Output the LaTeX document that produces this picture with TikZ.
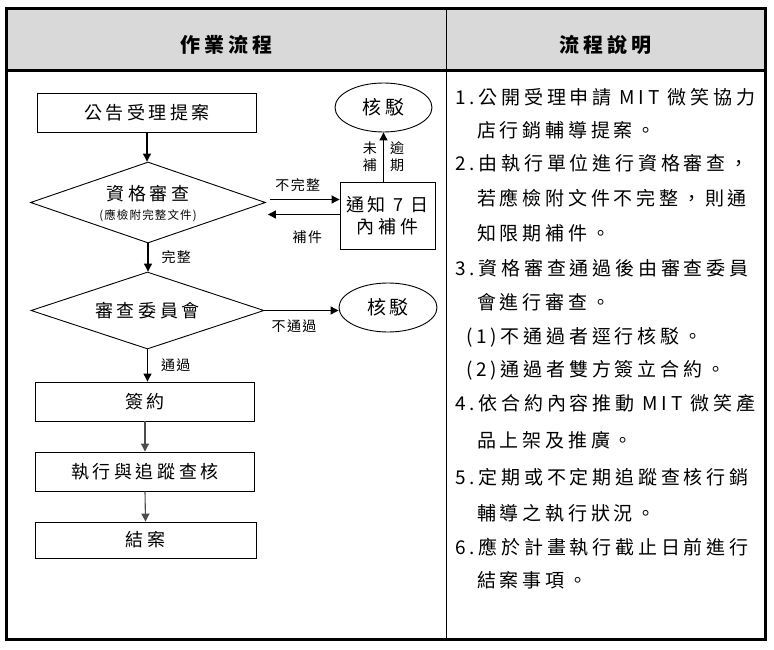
\documentclass[tikz,border=0pt]{standalone}
\usepackage{fontspec}
\newfontfamily\cjk[LetterSpace=20]{Noto Sans CJK TC}
\newfontfamily\cjklbl[LetterSpace=10]{Noto Sans CJK TC}
\usetikzlibrary{arrows.meta,shapes.geometric,calc}

\begin{document}
\begin{tikzpicture}[x=1pt,y=-1pt,
    box/.style={rectangle,draw,line width=0.9pt,minimum width=219pt,minimum height=39pt,inner sep=0pt,font=\cjk\fontsize{18}{22}\selectfont},
    dia/.style={diamond,draw,line width=0.9pt,minimum width=235pt,minimum height=81pt,inner sep=0pt},
    flowtxt/.style={align=center,inner sep=0pt,font=\cjk\fontsize{18}{22}\selectfont},
    oval/.style={ellipse,draw,line width=0.9pt,minimum width=97pt,minimum height=49pt,inner sep=0pt,font=\cjk\fontsize{19}{22}\selectfont},
    lbl/.style={font=\cjklbl\fontsize{14}{17}\selectfont,inner sep=1pt},
    desc/.style={anchor=west,inner sep=0pt,font=\cjk\fontsize{19}{22}\selectfont},
    arr/.style={-{Triangle[length=8pt,width=8pt]},line width=1.1pt}]
    \useasboundingbox (0,0) rectangle (774,650);
    % table
    \fill[black!15] (6,9) rectangle (765,71);
    \draw[line width=1pt] (446,9) -- (446,639);
    \draw[line width=3pt] (6,71) -- (765,71);
    \draw[line width=3pt] (6,9) rectangle (765,639);
    \node[font=\cjk\bfseries\fontsize{20}{22}\selectfont] (hdrL) at (226,45) {作業流程};
    \node[font=\cjk\bfseries\fontsize{20}{22}\selectfont] (hdrR) at (605,45) {流程說明};
    % flow nodes
    \node[box] (post) at (147,112.5) {公告受理提案};
    \node[dia] (chk) at (148,202.5) {};
    \node[flowtxt] (chktxt) at (148,204) {資格審查\\[-3pt]{\cjklbl\fontsize{11.5}{13}\selectfont(應檢附完整文件)}};
    \node[box,minimum width=95pt,minimum height=67pt,align=center] (notice) at (387.5,215.5) {通知 7 日\\內補件};
    \node[oval] (rej1) at (383.5,107.5) {核駁};
    \node[dia,minimum width=233pt,minimum height=77pt] (board) at (147.5,310.5) {};
    \node[flowtxt] (boardtxt) at (board) {審查委員會};
    \node[oval,minimum width=98pt] (rej2) at (388,307.5) {核駁};
    \node[box] (sign) at (145,401.5) {簽約};
    \node[box] (exec) at (145,471.5) {執行與追蹤查核};
    \node[box,minimum width=221pt,minimum height=36pt] (close) at (145.5,540) {結案};
    % paths
    \draw[arr] (post.south) -- (post.south |- chk.north);
    \draw[arr] ($(chk.east)+(4,-3)$) -- ($(chk.east -| notice.west)+(0,-3)$) node[lbl,above=6pt,pos=0.4] (lblno) {不完整};
    \draw[arr] ($(chk.east -| notice.west)+(0,12)$) -- ($(chk.east)+(2,12)$) node[lbl,below=15pt,pos=0.45] (lblfix) {補件};
    \draw[arr] (rej1.south |- notice.north) -- (rej1.south)
        node[lbl,left=5pt,midway,align=center] (lbllate) {未\\補}
        node[lbl,right=5pt,midway,align=center] (lbldue) {逾\\期};
    \draw[arr] (chk.south) -- (chk.south |- board.north) node[lbl,right=12pt,midway] (lblok) {完整};
    \draw[arr] (board.east) -- (board.east -| rej2.west) node[lbl,below=8pt,pos=0.4] (lblfail) {不通過};
    \draw[arr] (board.south) -- (board.south |- sign.north) node[lbl,right=12pt,midway] (lblpass) {通過};
    \draw[arr,black!70] (sign.south) -- (exec.north);
    \draw[arr,black!70] (exec.south) -- (close.north);
    % description
    \node[desc] (d1) at (455,97) {1.公開受理申請 MIT 微笑協力};
    \node[desc] (d1b) at (477,130) {店行銷輔導提案。};
    \node[desc] (d2) at (455,163) {2.由執行單位進行資格審查，};
    \node[desc] (d2b) at (477,198) {若應檢附文件不完整，則通};
    \node[desc] (d2c) at (477,233) {知限期補件。};
    \node[desc] (d3) at (455,268) {3.資格審查通過後由審查委員};
    \node[desc] (d3b) at (477,302) {會進行審查。};
    \node[desc] (d3c) at (466,337) {(1)不通過者逕行核駁。};
    \node[desc] (d3d) at (466,370) {(2)通過者雙方簽立合約。};
    \node[desc] (d4) at (455,403) {4.依合約內容推動 MIT 微笑產};
    \node[desc] (d4b) at (477,440) {品上架及推廣。};
    \node[desc] (d5) at (455,477) {5.定期或不定期追蹤查核行銷};
    \node[desc] (d5b) at (477,513) {輔導之執行狀況。};
    \node[desc] (d6) at (455,547) {6.應於計畫執行截止日前進行};
    \node[desc] (d6b) at (477,580) {結案事項。};
\end{tikzpicture}
\end{document}
